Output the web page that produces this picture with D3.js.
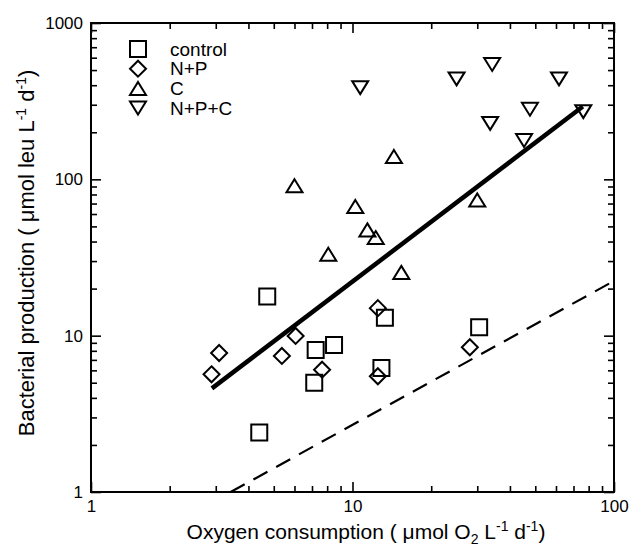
<!DOCTYPE html>
<html>
<head>
<meta charset="utf-8">
<script src="https://cdn.jsdelivr.net/npm/d3@7"></script>
<style>
    body { margin: 0; background: #fff; }
    text { font-family: "Liberation Sans", Arial, Helvetica, sans-serif; fill: #000; }
</style>
</head>
<body>
<div id="chart"></div>
<script>
// Treatments (oxygen consumption x, bacterial production y)
const seriesNames = ["control", "N+P", "C", "N+P+C"];
const seriesSymbols = ["square", "diamond", "triUp", "triDown"];

const controlX = [4.72, 7.23, 8.5, 7.14, 13.3, 12.9, 30.5, 4.40];
const controlY = [17.8, 8.1, 8.7, 5.0, 13.0, 6.2, 11.3, 2.4];

const npX = [3.09, 2.89, 5.37, 6.06, 7.65, 12.5, 12.5, 28.1];
const npY = [7.75, 5.66, 7.42, 9.96, 6.06, 15.0, 5.5, 8.43];

const cX = [14.4, 6.0, 10.25, 11.4, 12.27, 8.08, 15.37, 30.0];
const cY = [140, 91, 67, 47.5, 42.4, 33.2, 25.4, 73.8];

const npcX = [10.7, 25.0, 34.2, 61.6, 47.7, 33.6, 45.3, 76.3];
const npcY = [386, 439, 543, 439, 281, 228, 177, 271];

// regression line (solid) and reference line (dashed), end points
const fitX = [2.9, 76];
const fitY = [4.6, 292];
const refX = [3.42, 100];
const refY = [1, 22.4];

const xMajorTicks = [1, 10, 100];
const yMajorTicks = [1, 10, 100, 1000];

const allX = [controlX, npX, cX, npcX];
const allY = [controlY, npY, cY, npcY];

const W = 632, H = 551;
const plot = { left: 91, right: 614, top: 23, bottom: 492 };

const svg = d3.select("#chart").append("svg")
    .attr("width", W)
    .attr("height", H);

const x = d3.scaleLog().domain([1, 100]).range([plot.left, plot.right]);
const y = d3.scaleLog().domain([1, 1000]).range([plot.bottom, plot.top]);

const minorX = x.ticks().filter(d => !xMajorTicks.includes(d));
const minorY = y.ticks().filter(d => !yMajorTicks.includes(d));

// axes: ticks point inward on all four sides
function addAxis(axis, tx, ty) {
    const g = svg.append("g")
        .attr("transform", "translate(" + tx + "," + ty + ")")
        .call(axis);
    g.select(".domain").remove();
    g.selectAll("line").attr("stroke", "#000").attr("stroke-width", 1.6);
    g.selectAll("text").style("font-size", "17px").attr("fill", "#000");
    return g;
}

addAxis(d3.axisBottom(x).tickValues(minorX).tickSize(-6).tickFormat(""), 0, plot.bottom);
addAxis(d3.axisBottom(x).tickValues(xMajorTicks).tickSize(-10).tickPadding(8).tickFormat(d3.format("d")), 0, plot.bottom);
addAxis(d3.axisTop(x).tickValues(minorX).tickSize(-6).tickFormat(""), 0, plot.top);
addAxis(d3.axisTop(x).tickValues(xMajorTicks).tickSize(-10).tickFormat(""), 0, plot.top);

addAxis(d3.axisLeft(y).tickValues(minorY).tickSize(-6).tickFormat(""), plot.left, 0);
addAxis(d3.axisLeft(y).tickValues(yMajorTicks).tickSize(-10).tickPadding(8).tickFormat(d3.format("d")), plot.left, 0);
addAxis(d3.axisRight(y).tickValues(minorY).tickSize(-6).tickFormat(""), plot.right, 0);
addAxis(d3.axisRight(y).tickValues(yMajorTicks).tickSize(-10).tickFormat(""), plot.right, 0);

// frame
svg.append("rect")
    .attr("x", plot.left)
    .attr("y", plot.top)
    .attr("width", plot.right - plot.left)
    .attr("height", plot.bottom - plot.top)
    .attr("fill", "none")
    .attr("stroke", "#000")
    .attr("stroke-width", 2);

// lines
const line = d3.line().x(d => x(d[0])).y(d => y(d[1]));

svg.append("path")
    .datum(d3.zip(refX, refY))
    .attr("d", line)
    .attr("fill", "none")
    .attr("stroke", "#000")
    .attr("stroke-width", 2.2)
    .attr("stroke-dasharray", "16,10");

svg.append("path")
    .datum(d3.zip(fitX, fitY))
    .attr("d", line)
    .attr("fill", "none")
    .attr("stroke", "#000")
    .attr("stroke-width", 4.5);

// symbols
const symbolPath = {
    square: "M-8,-8H8V8H-8Z",
    diamond: "M0,-8L8,0L0,8L-8,0Z",
    triUp: "M0,-6.5L8,6.5H-8Z",
    triDown: "M0,6.5L8,-6.5H-8Z"
};

function drawSymbols(g, data, sym) {
    g.selectAll("path.pt")
        .data(data)
        .enter().append("path")
        .attr("class", "pt")
        .attr("transform", d => "translate(" + d.px + "," + d.py + ")")
        .attr("d", symbolPath[sym])
        .attr("fill", "none")
        .attr("stroke", "#000")
        .attr("stroke-width", 2);
}

seriesNames.forEach((name, i) => {
    const pts = d3.zip(allX[i], allY[i]).map(p => ({ px: x(p[0]), py: y(p[1]) }));
    drawSymbols(svg.append("g").attr("class", "series"), pts, seriesSymbols[i]);
});

// legend
const legend = svg.append("g").attr("class", "legend");
const legendItems = legend.selectAll(".legend-item")
    .data(seriesNames)
    .enter().append("g")
    .attr("class", "legend-item")
    .attr("transform", (d, i) => "translate(138," + (49 + i * 19.7) + ")");

legendItems.append("path")
    .attr("d", (d, i) => symbolPath[seriesSymbols[i]])
    .attr("fill", "none")
    .attr("stroke", "#000")
    .attr("stroke-width", 2);

legendItems.append("text")
    .attr("x", 32)
    .attr("y", 6.5)
    .style("font-size", "19px")
    .text(d => d);

// axis titles
const xTitle = svg.append("text")
    .attr("x", 366)
    .attr("y", 539)
    .attr("text-anchor", "middle")
    .style("font-size", "21px");
xTitle.append("tspan").text("Oxygen consumption ( \u03bcmol O");
xTitle.append("tspan").attr("dy", 5).style("font-size", "14px").text("2");
xTitle.append("tspan").attr("dy", -5).text(" L");
xTitle.append("tspan").attr("dy", -8).style("font-size", "14px").text("-1");
xTitle.append("tspan").attr("dy", 8).text(" d");
xTitle.append("tspan").attr("dy", -8).style("font-size", "14px").text("-1");
xTitle.append("tspan").attr("dy", 8).text(")");

const yTitle = svg.append("text")
    .attr("transform", "translate(34," + 253 + ") rotate(-90)")
    .attr("text-anchor", "middle")
    .style("font-size", "22px");
yTitle.append("tspan").text("Bacterial production ( \u03bcmol leu L");
yTitle.append("tspan").attr("dy", -8).style("font-size", "14px").text("-1");
yTitle.append("tspan").attr("dy", 8).text(" d");
yTitle.append("tspan").attr("dy", -8).style("font-size", "14px").text("-1");
yTitle.append("tspan").attr("dy", 8).text(")");
</script>
</body>
</html>
